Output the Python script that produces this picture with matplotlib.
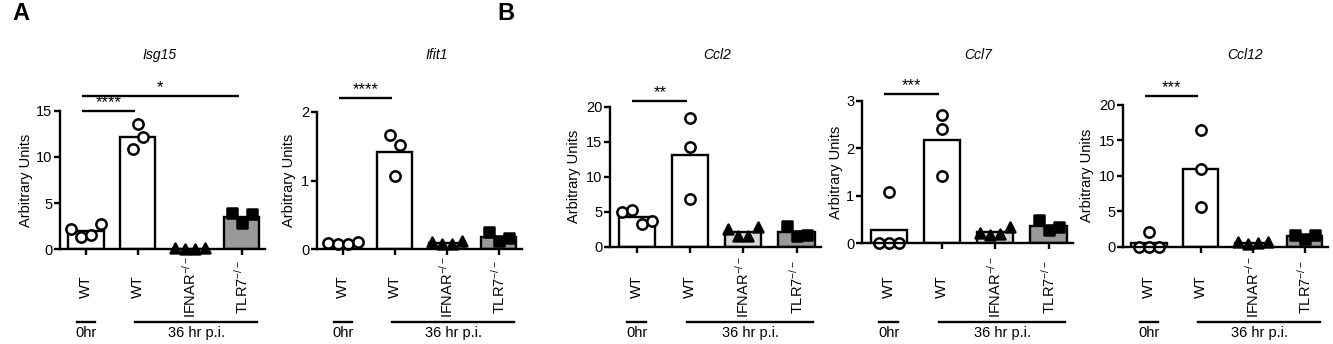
import numpy as np
import matplotlib
matplotlib.use("Agg")
import matplotlib.pyplot as plt
from matplotlib.transforms import blended_transform_factory

plt.rcParams["font.family"] = ["Liberation Sans", "DejaVu Sans"]
plt.rcParams["mathtext.fontset"] = "custom"
plt.rcParams["mathtext.rm"] = "Liberation Sans"
plt.rcParams["mathtext.it"] = "Liberation Sans:italic"

W, H, DPI = 1333, 344, 100

# ---- data ----
genes = ["Isg15", "Ifit1", "Ccl2", "Ccl7", "Ccl12"]
groups = ["WT", "WT", "IFNAR$^{-/-}$", "TLR7$^{-/-}$"]
timepoints = ["0hr", "36 hr p.i."]

isg15 = [[2.15, 1.3, 1.6, 2.7], [10.9, 13.6, 12.1], [0.1, 0.05, 0.08, 0.1], [3.9, 2.85, 3.85]]
ifit1 = [[0.09, 0.07, 0.07, 0.1], [1.66, 1.52, 1.06], [0.1, 0.07, 0.08, 0.12], [0.25, 0.12, 0.16]]
ccl2 = [[5.0, 5.2, 3.3, 3.7], [18.4, 14.3, 6.8], [2.5, 1.6, 1.6, 2.8], [2.9, 1.6, 1.7]]
ccl7 = [[0.0, 0.0, 0.0, 1.08], [2.7, 2.4, 1.42], [0.22, 0.18, 0.2, 0.35], [0.49, 0.27, 0.34]]
ccl12 = [[0.0, 0.0, 0.0, 2.1], [16.5, 11.0, 5.55], [0.6, 0.4, 0.5, 0.6], [1.65, 1.1, 1.65]]

isg15_ticks = [0, 5, 10, 15]
ifit1_ticks = [0, 1, 2]
ccl2_ticks = [0, 5, 10, 15, 20]
ccl7_ticks = [0, 1, 2, 3]
ccl12_ticks = [0, 5, 10, 15, 20]

isg15_sig = [(0, 1, "****"), (0, 3, "*")]
ifit1_sig = [(0, 1, "****")]
ccl2_sig = [(0, 1, "**")]
ccl7_sig = [(0, 1, "***")]
ccl12_sig = [(0, 1, "***")]

panel_data = [isg15, ifit1, ccl2, ccl7, ccl12]
panel_ticks = [isg15_ticks, ifit1_ticks, ccl2_ticks, ccl7_ticks, ccl12_ticks]
panel_sig = [isg15_sig, ifit1_sig, ccl2_sig, ccl7_sig, ccl12_sig]

# ---- layout (pixels) ----
# left, width, top, bottom of each axes box
boxes = [(60, 205, 110.7, 249.3), (317, 205, 111.7, 249.3), (610, 210.5, 106.7, 246.7),
         (862, 210.5, 101, 243.3), (1123, 205, 105, 246.7)]
sig_levels = [[15.0, 16.6], [2.2], [20.8], [3.15], [21.3]]
title_x = [160, 437, 717, 978, 1245]
ylabel_x = [26, 289, 574, 836, 1087]

bar_colors = ["white", "white", "#d9d9d9", "#999999"]
markers = ["o", "o", "^", "s"]
marker_face = ["white", "white", "black", "black"]
marker_size = [55, 55, 50, 45]
XMIN, XMAX = -0.5, 3.45


def swarm(values, px_y, step, gap=12):
    """spread overlapping points sideways, centred on the bar"""
    values = np.asarray(values, dtype=float)
    order = np.argsort(values, kind="stable")
    offs = np.zeros(len(values))
    clusters, cur = [], [order[0]]
    for k in order[1:]:
        if (values[k] - values[cur[-1]]) * px_y < gap:
            cur.append(k)
        else:
            clusters.append(cur)
            cur = [k]
    clusters.append(cur)
    for c in clusters:
        c = sorted(c)  # keep entry order left to right
        n = len(c)
        for m, k in enumerate(c):
            offs[k] = (m - (n - 1) / 2) * step
    return offs


fig = plt.figure(figsize=(W / DPI, H / DPI), dpi=DPI)

for p, gene in enumerate(genes):
    left, width, top, bottom = boxes[p]
    ax = fig.add_axes([left / W, 1 - bottom / H, width / W, (bottom - top) / H])
    data = panel_data[p]
    ticks = panel_ticks[p]
    ymax = ticks[-1]
    px_x = width / (XMAX - XMIN)
    px_y = (bottom - top) / ymax

    xs = np.arange(len(groups))
    means = [np.mean(v) for v in data]
    ax.bar(xs, means, width=0.68, color=bar_colors, edgecolor="black", linewidth=1.7, zorder=1)
    for i, vals in enumerate(data):
        offs = swarm(vals, px_y, 10 / px_x)
        ax.scatter(i + offs, vals, s=marker_size[i], marker=markers[i], facecolor=marker_face[i],
                   edgecolor="black", linewidths=1.8, zorder=2, clip_on=False)

    ax.set_xlim(XMIN, XMAX)
    ax.set_ylim(0, ymax)
    ax.set_yticks(ticks)
    ax.set_yticklabels([str(t) for t in ticks], fontsize=10.5)
    ax.set_xticks(xs)
    ax.set_xticklabels([])
    for s in ["top", "right"]:
        ax.spines[s].set_visible(False)
    for s in ["left", "bottom"]:
        ax.spines[s].set_linewidth(1.7)
    ax.tick_params(axis="both", width=1.7, length=4, pad=1.5)
    ax.patch.set_visible(False)

    # y label
    ax.set_ylabel("Arbitrary Units", fontsize=10.5, va="center")
    ax.yaxis.set_label_coords((ylabel_x[p] - left) / width, 0.5)

    # title
    fig.text(title_x[p] / W, 1 - 55 / H, gene, fontsize=10, style="italic", ha="center", va="center")

    # significance bars
    for (i, j, stars), lvl in zip(panel_sig[p], sig_levels[p]):
        ax.plot([i - 0.08, j - 0.05], [lvl, lvl], color="black", lw=1.7, clip_on=False,
                solid_capstyle="butt")
        ax.text((i + j - 0.13) / 2, lvl + 1.0 / px_y, stars, fontsize=12, ha="center", va="bottom")

    # category labels and time groups
    tr = blended_transform_factory(ax.transData, fig.transFigure)
    for i, g in enumerate(groups):
        ax.text(i, 1 - 287 / H, g, rotation=90, fontsize=10.5, ha="center", va="center", transform=tr)
    ax.plot([-0.18, 0.18], [1 - 322 / H] * 2, color="black", lw=1.7, transform=tr, clip_on=False)
    ax.plot([0.95, 3.3], [1 - 322 / H] * 2, color="black", lw=1.7, transform=tr, clip_on=False)
    ax.text(0, 1 - 333 / H, timepoints[0], fontsize=10.5, ha="center", va="center", transform=tr)
    ax.text(2.13, 1 - 333 / H, timepoints[1], fontsize=10.5, ha="center", va="center", transform=tr)

fig.text(12 / W, 1 - 14 / H, "A", fontsize=17, fontweight="bold", ha="left", va="center")
fig.text(497 / W, 1 - 14 / H, "B", fontsize=17, fontweight="bold", ha="left", va="center")

fig.savefig("out.png", dpi=DPI)
